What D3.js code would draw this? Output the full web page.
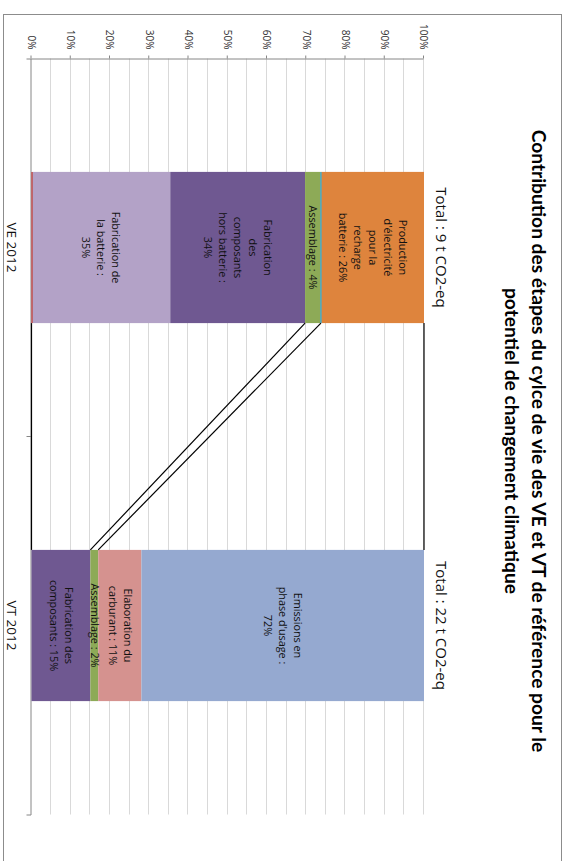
<!DOCTYPE html>
<html>
<head>
<meta charset="utf-8">
<script src="https://cdn.jsdelivr.net/npm/d3@7"></script>
<style>
  html, body { margin: 0; padding: 0; background: #fff; }
  svg { display: block; }
</style>
</head>
<body>
<svg id="chart" width="565" height="861"></svg>
<script>
// ---- data ----
const categories = ["VE 2012", "VT 2012"];
const stages = [
  "Fabrication de la batterie",
  "Fabrication des composants",
  "Assemblage",
  "Elaboration du carburant",
  "Emissions en phase d'usage",
  "Production d'électricité"
];
const stageColors = ["#B3A2C7", "#6F5891", "#8DAA57", "#D5928F", "#95A9D0", "#DE843D"];
const valuesVE = [35, 34, 4, 0, 0, 26];
const valuesVT = [0, 15, 2, 11, 72, 0];
const totals = ["Total : 9 t CO2-eq", "Total : 22 t CO2-eq"];
const valueTicks = [0, 0.1, 0.2, 0.3, 0.4, 0.5, 0.6, 0.7, 0.8, 0.9, 1];
const gridTicks = [0.05, 0.1, 0.15, 0.2, 0.25, 0.3, 0.35, 0.4, 0.45, 0.5,
                   0.55, 0.6, 0.65, 0.7, 0.75, 0.8, 0.85, 0.9, 0.95, 1];
const labelsVE = [
  ["Fabrication de", "la batterie :", "35%"],
  ["Fabrication", "des", "composants", "hors batterie :", "34%"],
  ["Assemblage : 4%"],
  null,
  null,
  ["Production", "d'électricité", "pour la", "recharge", "batterie : 26%"]
];
const labelsVT = [
  null,
  ["Fabrication des", "composants : 15%"],
  ["Assemblage : 2%"],
  ["Elaboration du", "carburant : 11%"],
  ["Emissions en", "phase d'usage :", "72%"],
  null
];
const titleLines = [
  "Contribution des étapes du cylce de vie des VE et VT de référence pour le",
  "potentiel de changement climatique"
];
// stage boundaries joined between the two bars
const linkedStages = ["Fabrication des composants", "Assemblage", "Production d'électricité"];
// thin coloured edges on the VE bar: [stage whose top edge is marked (null = base), colour]
const edgeMarksVE = [[null, "#C0504D"], ["Assemblage", "#4BACC6"]];

// ---- layout (chart drawn landscape, then turned a quarter turn) ----
const W = 861, H = 565;
const svg = d3.select("#chart");
const g = svg.append("g").attr("transform", `translate(${H},0) rotate(90)`);

const rows = categories.map((c, i) => {
  const r = { category: c };
  const vals = i === 0 ? valuesVE : valuesVT;
  stages.forEach((s, j) => r[s] = vals[j]);
  return r;
});
const series = d3.stack().keys(stages).offset(d3.stackOffsetExpand)(rows);

const x = d3.scaleBand().domain(categories).range([58.5, 814.5]).padding(0);
const barW = x.bandwidth() * 0.4;
const barX = c => x(c) + (x.bandwidth() - barW) / 2;
const y = d3.scaleLinear().domain([0, 1]).range([533.5, 141]);

// chart frame
g.append("rect")
  .attr("x", 14.5).attr("y", 3.5).attr("width", 900).attr("height", 558)
  .attr("fill", "none").attr("stroke", "#8c8c8c").attr("stroke-width", 1);

// gridlines
g.append("g").selectAll("line").data(gridTicks).join("line")
  .attr("x1", 58.5).attr("x2", 814.5)
  .attr("y1", d => Math.round(y(d)) + 0.5).attr("y2", d => Math.round(y(d)) + 0.5)
  .attr("stroke", "#d9d9d9").attr("stroke-width", 1);

// value axis
const yAxis = g.append("g").attr("transform", "translate(58.5,0)")
  .call(d3.axisLeft(y).tickValues(valueTicks).tickFormat(d3.format(".0%"))
        .tickSize(3).tickSizeOuter(0).tickPadding(6));
yAxis.select(".domain").attr("stroke", "#868686");
yAxis.selectAll(".tick line").attr("stroke", "#868686");
yAxis.selectAll(".tick text")
  .attr("font-family", "'Open Sans', sans-serif").attr("font-size", 10).attr("fill", "#333");

// category axis
const xAxis = g.append("g").attr("transform", `translate(0,${y(0)})`)
  .call(d3.axisBottom(x).tickSize(0).tickSizeOuter(5).tickPadding(15));
xAxis.select(".domain").attr("stroke", "#868686");
xAxis.selectAll(".tick text")
  .attr("font-family", "'Open Sans', sans-serif").attr("font-size", 13.5).attr("fill", "#111");
g.append("line")
  .attr("x1", x(categories[1])).attr("x2", x(categories[1]))
  .attr("y1", y(0)).attr("y2", y(0) + 5)
  .attr("stroke", "#868686");

// stacked bars
const layer = g.append("g").selectAll("g").data(series).join("g")
  .attr("fill", (d, i) => stageColors[i]);
layer.selectAll("rect").data(d => d.filter(p => p[1] - p[0] > 0)).join("rect")
  .attr("x", p => barX(p.data.category))
  .attr("width", barW)
  .attr("y", p => y(p[1]))
  .attr("height", p => y(p[0]) - y(p[1]));

// coloured edges on the VE bar
const veIndex = 0;
g.append("g").selectAll("line").data(edgeMarksVE).join("line")
  .attr("x1", barX(categories[veIndex])).attr("x2", barX(categories[veIndex]) + barW)
  .attr("y1", d => d[0] === null ? y(0) - 0.5 : y(series[stages.indexOf(d[0])][veIndex][1]))
  .attr("y2", d => d[0] === null ? y(0) - 0.5 : y(series[stages.indexOf(d[0])][veIndex][1]))
  .attr("stroke", d => d[1]).attr("stroke-width", 1.5);

// joins between the two bars
const xa = barX(categories[0]) + barW, xb = barX(categories[1]);
const joins = [series[0].map(p => p[0])].concat(
  linkedStages.map(s => series[stages.indexOf(s)].map(p => p[1])));
g.append("g").selectAll("line").data(joins).join("line")
  .attr("x1", xa).attr("x2", xb)
  .attr("y1", d => y(d[0])).attr("y2", d => y(d[1]))
  .attr("stroke", "#000").attr("stroke-width", 1.2);

// segment labels
const lh = 15;
const labelSets = [labelsVE, labelsVT];
series.forEach((s, j) => {
  s.forEach((p, i) => {
    const lines = labelSets[i][j];
    if (!lines) return;
    const cx = barX(p.data.category) + barW / 2;
    const cy = y((p[0] + p[1]) / 2);
    const t = g.append("text")
      .attr("font-family", "'Open Sans', sans-serif").attr("font-size", 10.8)
      .attr("fill", "#111").attr("text-anchor", "middle");
    lines.forEach((ln, k) => {
      t.append("tspan").attr("x", cx)
        .attr("y", cy + (k - (lines.length - 1) / 2) * lh)
        .attr("dy", "0.35em").text(ln);
    });
  });
});

// totals above each bar
g.append("g").selectAll("text").data(categories).join("text")
  .attr("x", c => barX(c) + barW / 2).attr("y", 129)
  .attr("text-anchor", "middle")
  .attr("font-family", "'Open Sans', sans-serif").attr("font-size", 15).attr("fill", "#111")
  .text((c, i) => totals[i]);

// title
g.append("g").selectAll("text").data(titleLines).join("text")
  .attr("x", 441).attr("y", (d, i) => 33 + i * 27)
  .attr("text-anchor", "middle")
  .attr("font-family", "Lato, sans-serif").attr("font-weight", "bold")
  .attr("font-size", 19.2).attr("fill", "#000")
  .text(d => d);
</script>
</body>
</html>
